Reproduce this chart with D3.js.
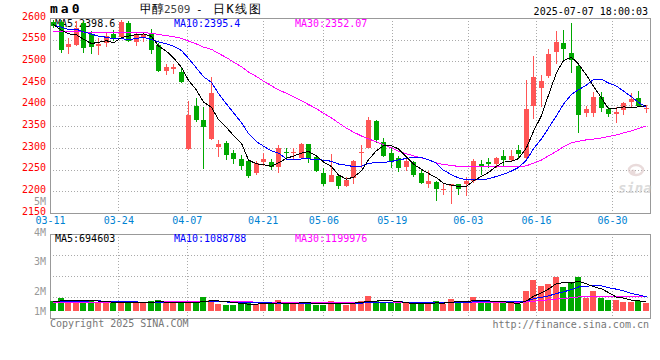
<!DOCTYPE html>
<html><head><meta charset="utf-8">
<script src="https://cdn.jsdelivr.net/npm/d3@7"></script>
<style>
body{margin:0;background:#fff}
svg{display:block}
text{font-family:"DejaVu Sans Mono",monospace}
</style>
</head><body>
<svg id="c" width="660" height="360"></svg>
<script>
const dates = ["03-11","03-12","03-13","03-14","03-17","03-18","03-19","03-20","03-21","03-24","03-25","03-26","03-27","03-28","03-31",
"04-01","04-02","04-03","04-07","04-08","04-09","04-10","04-11","04-14","04-15","04-16","04-17","04-18","04-21","04-22","04-23","04-24","04-25","04-28","04-29","04-30",
"05-06","05-07","05-08","05-09","05-12","05-13","05-14","05-15","05-16","05-19","05-20","05-21","05-22","05-23","05-26","05-27","05-28","05-29","05-30",
"06-03","06-04","06-05","06-06","06-09","06-10","06-11","06-12","06-13","06-16","06-17","06-18","06-19","06-20","06-23","06-24","06-25","06-26","06-27","06-30",
"07-01","07-02","07-03","07-04","07-07"];
const tickDates = ["03-11","03-24","04-07","04-21","05-06","05-19","06-03","06-16","06-30"];
const priceTicks = [2150,2200,2250,2300,2350,2400,2450,2500,2550,2600];
const volTickLabels = ["1M","2M","3M","4M","5M"];
const open  = [2590,2591,2532,2538,2588,2563,2535,2543,2563,2557,2589,2545,2557,2563,2538,2478,2482,2476,2297,2398,
2365,2320,2302,2312,2289,2275,2270,2242,2268,2268,2257,2291,2288,2278,2309,2280,2242,2222,2235,2212,
2230,2288,2299,2362,2313,2289,2276,2255,2268,2242,2217,2222,2203,2212,2218,2218,2224,2263,2268,2263,
2281,2272,2295,2278,2398,2439,2467,2522,2542,2520,2489,2381,2381,2417,2389,2378,2388,2407,2415,2389];
const high  = [2596,2595,2553,2593,2592,2570,2553,2566,2572,2595,2593,2566,2568,2574,2542,2495,2494,2486,2409,2415,
2394,2464,2318,2316,2295,2284,2275,2270,2289,2274,2307,2299,2299,2311,2309,2284,2255,2286,2238,2234,
2272,2307,2371,2365,2322,2299,2281,2278,2270,2251,2248,2224,2218,2218,2218,2233,2274,2272,2276,2280,
2295,2295,2307,2457,2512,2468,2528,2570,2572,2589,2495,2397,2430,2430,2395,2395,2407,2426,2431,2399];
const low   = [2578,2520,2518,2535,2519,2518,2515,2534,2548,2555,2545,2535,2545,2518,2475,2468,2471,2449,2295,2361,
2251,2318,2280,2272,2263,2249,2230,2238,2258,2249,2242,2272,2272,2276,2265,2245,2212,2222,2205,2211,
2218,2255,2299,2311,2280,2255,2245,2248,2234,2217,2207,2178,2191,2171,2191,2189,2220,2238,2253,2253,
2257,2271,2278,2274,2366,2395,2461,2493,2503,2474,2335,2372,2371,2384,2371,2358,2376,2395,2395,2381];
const close = [2582,2525,2540,2577,2531,2532,2540,2558,2553,2591,2548,2561,2563,2526,2478,2488,2486,2453,2376,2365,
2349,2428,2309,2284,2275,2258,2235,2265,2275,2255,2299,2288,2290,2309,2274,2248,2217,2238,2212,2226,
2270,2291,2365,2318,2281,2271,2254,2270,2238,2220,2224,2205,2205,2217,2205,2224,2270,2257,2262,2276,
2272,2281,2286,2389,2464,2455,2517,2544,2528,2503,2376,2389,2417,2392,2378,2384,2403,2412,2397,2393];
// closes of the 29 sessions before 03-11 (estimated so the MA lines start where the picture shows)
const priorClose = [2548,2555,2562,2550,2558,2566,2561,2553,2560,2568,2557,2564,2571,2560,2568,2555,2572,2563,2570,2570,2578,2590,2575,2588,2584,2592,2580,2590,2581];
const volume = [730000,1030000,730000,820000,620000,820000,620000,530000,530000,530000,
730000,530000,530000,730000,820000,530000,530000,530000,730000,620000,
1060000,820000,440000,380000,380000,460000,620000,460000,460000,460000,
820000,460000,460000,620000,530000,380000,380000,730000,580000,380000,
620000,730000,1180000,730000,530000,530000,530000,530000,460000,460000,
620000,730000,440000,910000,620000,730000,1060000,730000,530000,530000,
530000,530000,460000,1630000,2610000,2070000,2250000,2900000,2010000,2460000,
2900000,1030000,1650000,1030000,820000,820000,670000,670000,730000,580000];
const priorVolume = [520000,480000,560000,500000,530000,470000,540000,510000,490000,550000,500000,520000,480000,560000,510000,530000,490000,540000,505000,520000,640000,700000,610000,660000,690000,620000,650000,700000,630000];
const maLast = {ma5:"2398.6", ma10:"2395.4", ma30:"2352.07"};
const vmaLast = {ma5:"694603", ma10:"1088788", ma30:"1199976"};

const L=50,R=650,pTop=18,pBot=213,vTop=234,vBot=318,volBarBase=311;
const RED="#ff5555",GREEN="#00a800",GRID="#aaaaaa",BORDER="#999999";
const FONT='"DejaVu Sans Mono",monospace';
const svg=d3.select("#c");

const n=dates.length;
const x=d3.scaleBand().domain(d3.range(n)).range([L,R]);
const cx=i=>Math.round(x(i)+x.bandwidth()/2-0.5)+0.5;
const xg=d3.scalePoint().domain(dates).range([L,R]);
const y=d3.scaleLinear().domain([2150,2600]).range([pBot,pTop]);
const yv=d3.scaleLinear().domain([0,1e6]).range([309.2,298]);
const yvLab=d3.scaleLinear().domain([1,2,3,4,5]).range([311,291,261,232,201]);

function movAvg(prior, vals, k){
  const full=prior.concat(vals), off=prior.length;
  return vals.map((v,i)=>d3.mean(full.slice(off+i-k+1, off+i+1)));
}
const ma5=movAvg(priorClose,close,5), ma10=movAvg(priorClose,close,10), ma30=movAvg(priorClose,close,30);
const vma5=movAvg(priorVolume,volume,5), vma10=movAvg(priorVolume,volume,10), vma30=movAvg(priorVolume,volume,30);

// ---- grids
const g=svg.append("g").attr("shape-rendering","crispEdges");
priceTicks.slice(1,-1).forEach(p=>{
  const yy=Math.round(y(p))+0.5;
  g.append("line").attr("x1",L).attr("x2",R).attr("y1",yy).attr("y2",yy)
   .attr("stroke",GRID).attr("stroke-dasharray","1,2");
});
[0.25,0.5,0.75].forEach(f=>{
  const yy=Math.round(vTop+(vBot-vTop)*f)+0.5;
  g.append("line").attr("x1",L).attr("x2",R).attr("y1",yy).attr("y2",yy)
   .attr("stroke",GRID).attr("stroke-dasharray","1,2");
});
tickDates.slice(1).forEach(d=>{
  const xx=Math.round(xg(d))+0.5;
  g.append("line").attr("x1",xx).attr("x2",xx).attr("y1",pTop).attr("y2",pBot)
   .attr("stroke",GRID).attr("stroke-dasharray","1,2");
  g.append("line").attr("x1",xx).attr("x2",xx).attr("y1",vTop).attr("y2",vBot)
   .attr("stroke",GRID).attr("stroke-dasharray","1,2");
});
// borders
[[pTop,pBot],[vTop,vBot]].forEach(([t,b])=>{
  g.append("rect").attr("x",L+0.5).attr("y",t+0.5).attr("width",R-L).attr("height",b-t)
   .attr("fill","none").attr("stroke",BORDER);
});

// ---- watermark
const wm=svg.append("g").attr("opacity",0.6);
wm.append("ellipse").attr("cx",636).attr("cy",170).attr("rx",7).attr("ry",5).attr("fill","none").attr("stroke","#dcc4c4").attr("stroke-width",2.5);
wm.append("circle").attr("cx",633).attr("cy",172).attr("r",2.5).attr("fill","#dcc4c4");
wm.append("text").attr("x",618).attr("y",193).attr("font-family","Liberation Sans, sans-serif")
  .attr("font-style","italic").attr("font-weight","bold").attr("font-size",14).attr("fill","#c4c4c4").text("sina");

// ---- header texts
svg.append("text").attr("x",50).attr("y",13).attr("font-size",13).attr("font-weight","bold")
  .attr("letter-spacing",3).attr("fill","#000").text("ma0");
svg.append("text").attr("x",140).attr("y",13).attr("font-size",12).attr("font-family",'"Noto Sans CJK SC",sans-serif').attr("fill","#000").text("甲醇");
svg.append("text").attr("x",164).attr("y",13).attr("font-size",11).attr("fill","#444").text("2509");
svg.append("text").attr("x",196).attr("y",13).attr("font-size",11).attr("fill","#000").text("-");
svg.append("text").attr("x",213).attr("y",13).attr("font-size",12).attr("letter-spacing",1.5).attr("font-family",'"Noto Sans CJK SC",sans-serif').attr("fill","#000").text("日K线图");
svg.append("text").attr("x",648).attr("y",15).attr("font-size",10).attr("text-anchor","end").attr("fill","#000").text("2025-07-07 18:00:03");

function maLabels(yy, vals){
  svg.append("text").attr("x",55).attr("y",yy).attr("font-size",10).attr("fill","#000").text("MA5:"+vals.ma5);
  svg.append("text").attr("x",174).attr("y",yy).attr("font-size",10).attr("fill","#0000ff").text("MA10:"+vals.ma10);
  svg.append("text").attr("x",295).attr("y",yy).attr("font-size",10).attr("fill","#ff00ff").text("MA30:"+vals.ma30);
}
maLabels(27, maLast);
maLabels(242, vmaLast);

// ---- axes
const yAx=svg.append("g").attr("transform",`translate(${L},0)`)
  .call(d3.axisLeft(y).tickValues(priceTicks).tickSize(0).tickPadding(4).tickFormat(d3.format("d")));
yAx.select(".domain").remove();
yAx.selectAll("text").attr("fill","#ff0000").attr("font-size",10).attr("font-family",FONT).attr("dy","0.12em");

const xAx=svg.append("g").attr("transform",`translate(0,${pBot})`)
  .call(d3.axisBottom(xg).tickValues(tickDates).tickSize(0).tickPadding(4));
xAx.select(".domain").remove();
xAx.selectAll("text").attr("fill","#0082d2").attr("font-size",10).attr("font-family",FONT);

svg.append("g").selectAll("text").data(volTickLabels).join("text")
  .attr("x",46).attr("y",(d,i)=>yvLab(i+1)).attr("dy","0.35em").attr("text-anchor","end")
  .attr("font-size",10).attr("fill","#999").text(d=>d);

// ---- candles
const bw=5;
const cg=svg.append("g").attr("shape-rendering","crispEdges");
d3.range(n).forEach(i=>{
  const up=close[i]>=open[i], col=up?RED:GREEN;
  const xc=cx(i);
  cg.append("line").attr("x1",xc).attr("x2",xc).attr("y1",y(high[i])).attr("y2",y(low[i])).attr("stroke",col);
  const t=y(Math.max(open[i],close[i])), b=y(Math.min(open[i],close[i]));
  cg.append("rect").attr("x",xc-0.5-Math.floor(bw/2)).attr("y",Math.round(t)).attr("width",bw)
    .attr("height",Math.max(1,Math.round(b)-Math.round(t))).attr("fill",col);
  // volume
  const vt=Math.round(yv(volume[i]));
  cg.append("rect").attr("x",xc-0.5-Math.floor(6/2)).attr("y",vt).attr("width",6)
    .attr("height",volBarBase-vt).attr("fill",col);
});

// ---- MA lines
const lineP=d3.line().x((d,i)=>cx(i)).y(d=>y(d));
const lineV=d3.line().x((d,i)=>cx(i)).y(d=>yv(d));
[[ma30,"#ff00ff"],[ma10,"#0000ff"],[ma5,"#000000"]].forEach(([a,c])=>{
  svg.append("path").attr("d",lineP(a)).attr("fill","none").attr("stroke",c).attr("stroke-width",1).attr("shape-rendering","crispEdges");
});
[[vma30,"#ff00ff"],[vma10,"#0000ff"],[vma5,"#000000"]].forEach(([a,c])=>{
  svg.append("path").attr("d",lineV(a)).attr("fill","none").attr("stroke",c).attr("stroke-width",1).attr("shape-rendering","crispEdges");
});

// ---- footer
svg.append("text").attr("x",50).attr("y",327).attr("font-size",10).attr("fill","#777").text("Copyright 2025 SINA.COM");
svg.append("text").attr("x",649).attr("y",328).attr("font-size",10).attr("text-anchor","end").attr("fill","#777").text("http://finance.sina.com.cn");
</script>
</body></html>
